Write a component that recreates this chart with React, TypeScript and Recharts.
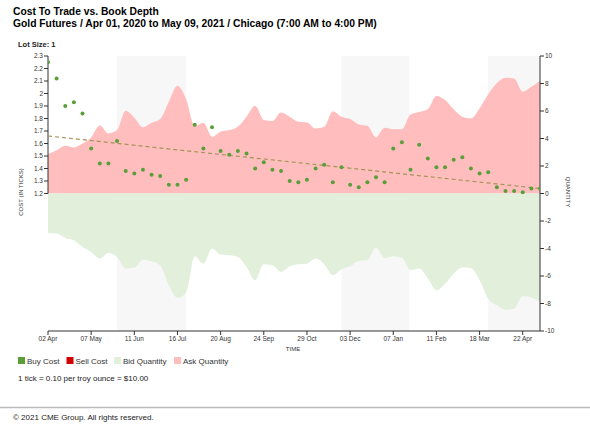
import React from "react"
import {
  ComposedChart,
  Area,
  Scatter,
  XAxis,
  YAxis,
  ReferenceArea,
  ReferenceLine,
} from "recharts"

// week offsets (days since 02 Apr 2020)
const days = [
  0, 7, 14, 21, 28, 35, 42, 49, 56, 63, 70, 77, 84, 91, 98, 105, 112, 119, 126, 133,
  140, 147, 154, 161, 168, 175, 182, 189, 196, 203, 210, 217, 224, 231, 238, 245, 252, 259, 266, 273,
  280, 287, 294, 301, 308, 315, 322, 329, 336, 343, 350, 357, 364, 371, 378, 385, 392, 399,
]

const buyCost = [
  2.25, 2.12, 1.9, 1.93, 1.84, 1.56, 1.44, 1.44, 1.62, 1.38, 1.36, 1.39, 1.35, 1.34, 1.27, 1.27, 1.31, 1.75, 1.56, 1.73,
  1.54, 1.51, 1.54, 1.52, 1.4, 1.45, 1.39, 1.38, 1.3, 1.29, 1.31, 1.4, 1.43, 1.29, 1.41, 1.27, 1.25, 1.29, 1.33, 1.29,
  1.56, 1.61, 1.39, 1.59, 1.48, 1.41, 1.41, 1.47, 1.49, 1.4, 1.36, 1.37, 1.25, 1.22, 1.22, 1.21, 1.24, 1.24,
]

const askQty = [
  2.88, 3.15, 3.47, 3.35, 3.64, 4.08, 4.95, 4.37, 4.61, 6.02, 5.51, 4.81, 5.14, 5.41, 6.67, 7.84, 6.85, 4.9, 5.14, 4.12,
  4.49, 4.61, 4.85, 5.58, 6.38, 5.34, 5.27, 5.9, 5.58, 5.22, 5.17, 4.73, 4.85, 5.99, 5.58, 5.41, 5.02, 4.92, 4.08, 4.78,
  4.68, 4.68, 5.75, 5.92, 6.12, 7.09, 6.8, 6.12, 5.58, 5.46, 6.19, 7.22, 8.01, 8.42, 8.37, 7.4, 7.76, 8.2,
]

const bidQty = [
  -2.87, -2.91, -3.23, -3.4, -3.89, -4.25, -4.73, -4.32, -4.61, -5.46, -5.39, -4.81, -4.93, -5.22, -6.68, -7.6, -7.2, -4.58, -5.1, -4.0,
  -4.44, -4.49, -4.61, -5.34, -6.31, -5.15, -5.22, -5.71, -5.29, -5.15, -5.1, -4.73, -5.15, -5.95, -5.51, -5.29, -4.91, -4.86, -3.93, -4.69,
  -4.57, -4.68, -5.59, -5.46, -6.19, -7.04, -6.56, -5.83, -5.39, -5.42, -6.31, -7.65, -8.13, -8.45, -8.38, -7.48, -7.57, -7.89,
]

// trend line of buy cost, start and end
const trendStart = 1.66
const trendEnd = 1.24

const xTickDays = [0, 35, 70, 105, 140, 175, 210, 245, 280, 315, 350, 385]
const xTickLabels = ["02 Apr", "07 May", "11 Jun", "16 Jul", "20 Aug", "24 Sep", "29 Oct", "03 Dec", "07 Jan", "11 Feb", "18 Mar", "22 Apr"]
const costTicks = [1.2, 1.3, 1.4, 1.5, 1.6, 1.7, 1.8, 1.9, 2, 2.1, 2.2, 2.3]
const qtyTicks = [-10, -8, -6, -4, -2, 0, 2, 4, 6, 8, 10]

// shaded periods, in days
const shadedStart = [56, 238, 357]
const shadedEnd = [112, 293, 399]

const data = days.map((day, i) => ({
  day,
  buy: buyCost[i],
  ask: askQty[i],
  bid: bidQty[i],
}))

const FONT = "'Liberation Sans', Arial, sans-serif"
const GREEN = "#5a9e3a"
const RED = "#d40000"
const BID = "#e2efdb"
const ASK = "#ffbdbd"
const AXIS = "#333"

const tickStyle = { fontSize: 6.5, fill: "#333", fontFamily: FONT }

const legendItems = [
  { label: "Buy Cost", color: GREEN, x: 18 },
  { label: "Sell Cost", color: RED, x: 66.5 },
  { label: "Bid Quantity", color: BID, x: 114 },
  { label: "Ask Quantity", color: ASK, x: 174 },
]

export default function App() {
  return (
    <div style={{ position: "absolute", left: 0, top: 0, width: 590, height: 425, background: "#fff", fontFamily: FONT }}>
      <div style={{ position: "absolute", left: 0, top: 0 }}>
        <ComposedChart width={590} height={345} data={data} margin={{ top: 56, right: 0, bottom: 0, left: 0 }}>
          {shadedStart.map((s, i) => (
            <ReferenceArea
              key={i}
              yAxisId="right"
              x1={s}
              x2={shadedEnd[i]}
              fill="#f7f7f7"
              fillOpacity={1}
              stroke="none"
              zIndex={-60}
            />
          ))}
          <XAxis
            type="number"
            dataKey="day"
            domain={[0, 399]}
            ticks={xTickDays}
            tickFormatter={(v) => xTickLabels[xTickDays.indexOf(v)]}
            tick={tickStyle}
            tickSize={4}
            tickMargin={1}
            height={14}
            stroke={AXIS}
            allowDataOverflow
          />
          <YAxis
            yAxisId="left"
            domain={[0.1, 2.3]}
            ticks={costTicks}
            width={48}
            tick={tickStyle}
            tickSize={4}
            tickMargin={1}
            axisLine={false}
            stroke={AXIS}
            allowDataOverflow
          />
          <YAxis
            yAxisId="right"
            orientation="right"
            domain={[-10, 10]}
            ticks={qtyTicks}
            width={50}
            tick={tickStyle}
            tickSize={4}
            tickMargin={1}
            stroke={AXIS}
          />
          <Area
            yAxisId="right"
            type="monotone"
            dataKey="ask"
            fill={ASK}
            fillOpacity={1}
            stroke="none"
            isAnimationActive={false}
          />
          <Area
            yAxisId="right"
            type="monotone"
            dataKey="bid"
            fill={BID}
            fillOpacity={1}
            stroke="none"
            isAnimationActive={false}
          />
          <ReferenceLine
            yAxisId="left"
            segment={[
              { x: 0, y: 1.2 },
              { x: 0, y: 2.3 },
            ]}
            stroke={AXIS}
          />
          <ReferenceLine
            yAxisId="left"
            segment={[
              { x: 0, y: trendStart },
              { x: 399, y: trendEnd },
            ]}
            stroke="#a3955a"
            strokeWidth={1.2}
            strokeDasharray="4 3"
          />
          <Scatter
            yAxisId="left"
            dataKey="buy"
            isAnimationActive={false}
            shape={(p: any) => <circle cx={p.cx} cy={p.cy} r={2} fill={GREEN} />}
          />
        </ComposedChart>
      </div>
      <svg width={590} height={425} style={{ position: "absolute", left: 0, top: 0, pointerEvents: "none" }} fontFamily={FONT}>
        <text x={13} y={15} fontSize={10.3} fontWeight="bold" fill="#000">
          Cost To Trade vs. Book Depth
        </text>
        <text x={13} y={26.5} fontSize={10.3} fontWeight="bold" fill="#000">
          Gold Futures / Apr 01, 2020 to May 09, 2021 / Chicago (7:00 AM to 4:00 PM)
        </text>
        <text x={18} y={47} fontSize={7.5} fontWeight="bold" fill="#222">
          Lot Size: 1
        </text>
        <text transform="translate(23,192) rotate(-90)" textAnchor="middle" fontSize={6} fill="#333">
          COST (IN TICKS)
        </text>
        <text transform="translate(566,192) rotate(90)" textAnchor="middle" fontSize={6} fill="#333">
          QUANTITY
        </text>
        <text x={293} y={351} textAnchor="middle" fontSize={6} fill="#333">
          TIME
        </text>
        {legendItems.map((it) => (
          <g key={it.label}>
            <rect x={it.x} y={357} width={7} height={7} fill={it.color} />
            <text x={it.x + 9} y={364} fontSize={8} fill="#333">
              {it.label}
            </text>
          </g>
        ))}
        <text x={18} y={381} fontSize={8} fill="#222">
          1 tick = 0.10 per troy ounce = $10.00
        </text>
        <line x1={0} x2={590} y1={407.5} y2={407.5} stroke="#bbb" strokeWidth={1.5} />
        <text x={13} y={420} fontSize={8} fill="#222">
          © 2021 CME Group. All rights reserved.
        </text>
      </svg>
    </div>
  )
}
